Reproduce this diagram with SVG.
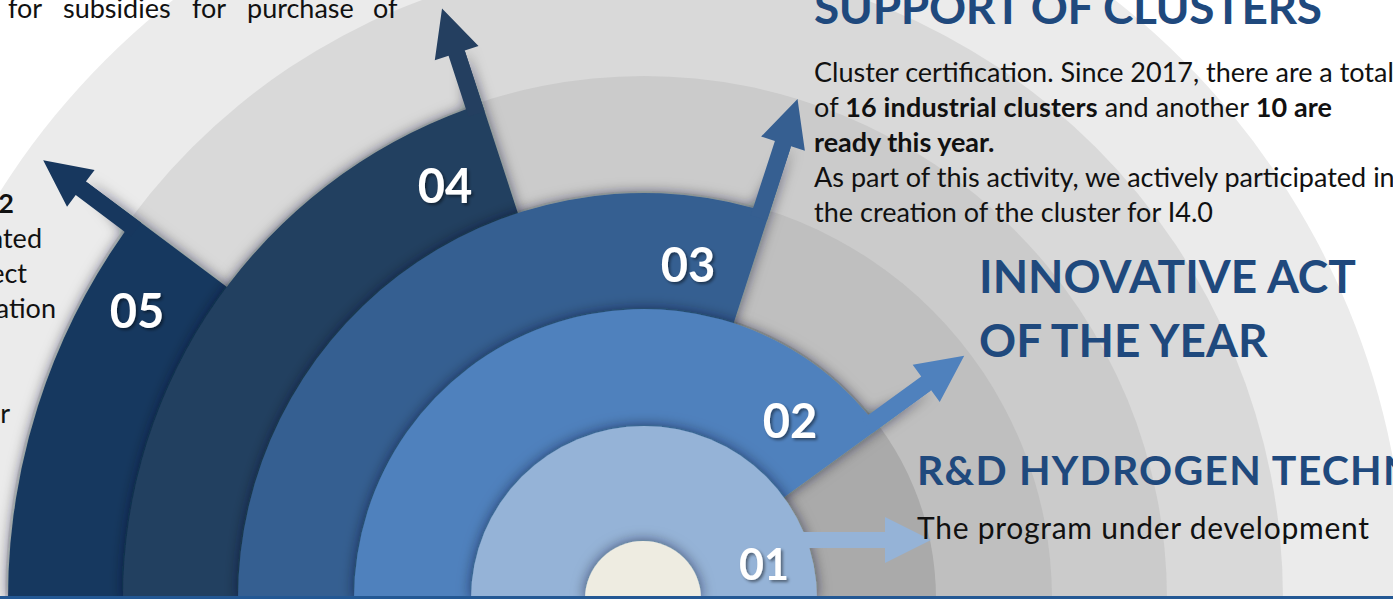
<svg xmlns="http://www.w3.org/2000/svg" width="1393" height="599" viewBox="0 0 1393 599">
  <defs>
    <style>
      .body { font-family: Lato, "Open Sans", "Liberation Sans", sans-serif; font-size: 27px; fill: #111111; }
      .b { font-weight: 700; }
      .head { font-family: Lato, "Open Sans", "Liberation Sans", sans-serif; font-weight: 700; font-size: 46px; fill: #1F497D; }
      .rd { font-family: Lato, "Open Sans", "Liberation Sans", sans-serif; font-weight: 700; font-size: 41px; fill: #1F497D; letter-spacing: 1.2px; }
      .rdsub { font-family: Lato, "Open Sans", "Liberation Sans", sans-serif; font-weight: 400; font-size: 30px; fill: #111111; }
      .num { font-family: Lato, "Open Sans", "Liberation Sans", sans-serif; font-weight: 700; font-size: 47px; fill: #FFFFFF; text-anchor: middle; filter: url(#txtShadow); }
    </style>
    <filter id="ringShadow" x="-30%" y="-30%" width="160%" height="160%">
      <feGaussianBlur in="SourceAlpha" stdDeviation="7" result="blur"/>
      <feFlood flood-color="#0b1626" flood-opacity="0.6"/>
      <feComposite in2="blur" operator="in" result="shadow"/>
      <feMerge>
        <feMergeNode in="shadow"/>
        <feMergeNode in="SourceGraphic"/>
      </feMerge>
    </filter>
    <filter id="txtShadow" x="-20%" y="-20%" width="140%" height="140%">
      <feDropShadow dx="2" dy="2" stdDeviation="1.5" flood-color="#000000" flood-opacity="0.45"/>
    </filter>
  </defs>

  <rect x="0" y="0" width="1393" height="599" fill="#FFFFFF"/>

  <!-- grey background bands -->
  <g id="bands">
    <path d="M -118 599 A 762 762 0 0 1 1406 599 Z" fill="#EBEBEB"/>
    <path d="M 5 599 A 639 639 0 0 1 1283 599 Z" fill="#D9D9D9"/>
    <path d="M 121 599 A 523 523 0 0 1 1167 599 Z" fill="#CBCBCB"/>
    <path d="M 236 599 A 408 408 0 0 1 1052 599 Z" fill="#BFBFBF"/>
    <path d="M 352 599 A 292 292 0 0 1 936 599 Z" fill="#AAAAAA"/>
  </g>

  <g id="ring-05" filter="url(#ringShadow)">
    <path d="M 644 599 L 8 599 A 636 636 0 0 1 124.76 231.78 L 85.91 181.5 Z" fill="#17375E"/>
  </g>
  <g id="ring-04" filter="url(#ringShadow)">
    <path d="M 644 599 L 123 599 A 521 521 0 0 1 466.05 109.34 L 464.73 50.56 Z" fill="#243F60"/>
  </g>
  <g id="ring-03" filter="url(#ringShadow)">
    <path d="M 644 599 L 238 599 A 406 406 0 0 1 753.17 207.95 L 791.08 146.28 Z" fill="#365F91"/>
  </g>
  <g id="ring-02" filter="url(#ringShadow)">
    <path d="M 644 599 L 354 599 A 290 290 0 0 1 868.22 415.08 L 931.2 390.33 Z" fill="#4F81BD"/>
  </g>
  <g id="ring-01" filter="url(#ringShadow)">
    <path d="M 471 599 A 173 173 0 0 1 817 599 Z" fill="#95B3D7"/>
  </g>
  <g id="center" filter="url(#ringShadow)">
    <path d="M 585 599 A 58 58 0 0 1 701 599 Z" fill="#EEECE1"/>
  </g>

  <g id="connectors">
    <path d="M 130.98 236.44 L 75.73 195.11 L 67.04 206.72 L 43.19 160.15 L 94.6 169.89 L 85.91 181.5 L 141.16 222.83 Z" fill="#17375E"/>
    <path d="M 468.45 116.67 L 448.57 55.84 L 434.79 60.35 L 442.04 8.53 L 478.51 46.05 L 464.73 50.56 L 484.61 111.39 Z" fill="#243F60"/>
    <path d="M 750.81 215.21 L 774.91 141.03 L 761.12 136.55 L 797.53 98.94 L 804.87 150.76 L 791.08 146.28 L 766.98 220.46 Z" fill="#365F91"/>
    <path d="M 862.15 419.49 L 921.21 376.58 L 912.68 364.85 L 964.22 355.82 L 939.72 402.06 L 931.2 390.33 L 872.14 433.24 Z" fill="#4F81BD"/>
    <path d="M 800 532 L 885 532 L 885 517 L 931 540 L 885 563 L 885 548 L 800 548 Z" fill="#95B3D7"/>
  </g>

  <g id="labels">
    <text class="num" x="137" y="328">05</text>
    <text class="num" x="445" y="203">04</text>
    <text class="num" x="688" y="282">03</text>
    <text class="num" x="790" y="438">02</text>
    <text class="num" x="764" y="580" style="font-size:43px">01</text>
  </g>

  <g id="text-left">
    <text class="body" y="18"><tspan x="8">for</tspan><tspan x="63">subsidies</tspan><tspan x="192">for</tspan><tspan x="247">purchase</tspan><tspan x="373">of</tspan></text>
    <text class="body b" x="14" y="213" text-anchor="end">2</text>
    <text class="body" x="42" y="248" text-anchor="end">ated</text>
    <text class="body" x="27" y="283" text-anchor="end">ect</text>
    <text class="body" x="56" y="318" text-anchor="end">ation</text>
    <text class="body" x="10" y="423" text-anchor="end">r</text>
  </g>

  <g id="text-clusters">
    <text class="head" x="814" y="24" textLength="508" lengthAdjust="spacing">SUPPORT OF CLUSTERS</text>
    <text class="body" x="814" y="82">Cluster certification. Since 2017, there are a total</text>
    <text class="body" x="814" y="117" textLength="518" lengthAdjust="spacing">of <tspan class="b">16 industrial clusters</tspan> and another <tspan class="b">10 are</tspan></text>
    <text class="body b" x="814" y="152">ready this year.</text>
    <text class="body" x="814" y="187">As part of this activity, we actively participated in</text>
    <text class="body" x="814" y="222" textLength="399" lengthAdjust="spacing">the creation of the cluster for I4.0</text>
  </g>

  <g id="text-innovative">
    <text class="head" x="979" y="293">INNOVATIVE ACT</text>
    <text class="head" x="979" y="357">OF THE YEAR</text>
  </g>

  <g id="text-hydrogen">
    <text class="rd" x="917" y="485">R&amp;D HYDROGEN TECHN</text>
    <text class="rdsub" x="917" y="539" textLength="452" lengthAdjust="spacing">The program under development</text>
  </g>

  <rect x="0" y="596" width="1393" height="3" fill="#235894"/>
</svg>
